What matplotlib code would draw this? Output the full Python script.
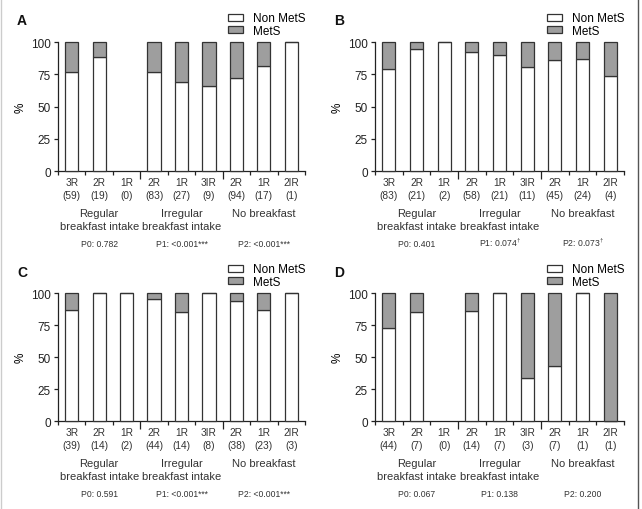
import matplotlib
matplotlib.use("Agg")
import matplotlib.pyplot as plt
from matplotlib.lines import Line2D
from matplotlib.ticker import FixedLocator

plt.rcParams["font.family"] = ["Liberation Sans", "DejaVu Sans"]
plt.rcParams["mathtext.fontset"] = "custom"
plt.rcParams["mathtext.rm"] = "Liberation Sans"

categories = ["3R", "2R", "1R", "2R", "1R", "3IR", "2R", "1R", "2IR"]
groups = ["Regular\nbreakfast intake", "Irregular\nbreakfast intake", "No breakfast"]

a_counts = [59, 19, 0, 83, 27, 9, 94, 17, 1]
a_non_mets = [77.1, 88.1, 0, 76.4, 69.4, 65.7, 72.5, 81.6, 100]
a_mets = [22.9, 11.9, 0, 23.6, 30.6, 34.3, 27.5, 18.4, 0]
a_pvalues = ["P0: 0.782", "P1: <0.001***", "P2: <0.001***"]

b_counts = [83, 21, 2, 58, 21, 11, 45, 24, 4]
b_non_mets = [79.0, 94.5, 100, 92.2, 89.9, 81.0, 86.0, 86.8, 74.0]
b_mets = [21.0, 5.5, 0, 7.8, 10.1, 19.0, 14.0, 13.2, 26.0]
b_pvalues = ["P0: 0.401", "P1: 0.074$^{†}$", "P2: 0.073$^{†}$"]

c_counts = [39, 14, 2, 44, 14, 8, 38, 23, 3]
c_non_mets = [87.0, 100, 100, 95.1, 85.2, 100, 94.0, 86.5, 100]
c_mets = [13.0, 0, 0, 4.9, 14.8, 0, 6.0, 13.5, 0]
c_pvalues = ["P0: 0.591", "P1: <0.001***", "P2: <0.001***"]

d_counts = [44, 7, 0, 14, 7, 3, 7, 1, 1]
d_non_mets = [72.7, 85.2, 0, 85.7, 100, 33.6, 42.7, 100, 0]
d_mets = [27.3, 14.8, 0, 14.3, 0, 66.4, 57.3, 0, 100]
d_pvalues = ["P0: 0.067", "P1: 0.138", "P2: 0.200"]

panels = [
    ("A", a_counts, a_non_mets, a_mets, a_pvalues, [0.0903, 0.6627, 0.3848, 0.2529]),
    ("B", b_counts, b_non_mets, b_mets, b_pvalues, [0.5841, 0.6627, 0.3879, 0.2529]),
    ("C", c_counts, c_non_mets, c_mets, c_pvalues, [0.0903, 0.1725, 0.3848, 0.2510]),
    ("D", d_counts, d_non_mets, d_mets, d_pvalues, [0.5841, 0.1725, 0.3879, 0.2510]),
]

GRAY = "#9e9e9e"
EDGE = "#333333"
PX = 0.72  # points per pixel at 100 dpi

fig = plt.figure(figsize=(6.42, 5.10), dpi=100)

for letter, counts, non_mets, mets, pvalues, rect in panels:
    ax = fig.add_axes(rect)
    xs = [i for i, n in enumerate(counts) if n > 0]
    non = [non_mets[i] for i in xs]
    met = [mets[i] for i in xs]
    ax.bar(xs, non, width=0.48, color="white", edgecolor=EDGE, linewidth=0.9,
           label="Non MetS", clip_on=False, zorder=3)
    ax.bar(xs, met, width=0.48, bottom=non, color=GRAY, edgecolor=EDGE,
           linewidth=0.9, label="MetS", clip_on=False, zorder=3)

    ax.set_xlim(-0.5, 8.5)
    ax.set_ylim(0, 100)
    ax.set_yticks([0, 25, 50, 75, 100])
    ax.tick_params(axis="y", labelsize=8.5, length=3, width=0.9, pad=2,
                   colors="#222222")
    ax.set_ylabel("%", fontsize=8.5, labelpad=3)

    ax.xaxis.set_major_locator(FixedLocator([2.5, 5.5]))
    ax.xaxis.set_minor_locator(FixedLocator([-0.5, 0.5, 1.5, 3.5, 4.5, 6.5, 7.5, 8.5]))
    ax.tick_params(axis="x", which="major", length=6, width=0.9, labelbottom=False,
                   color="#222222")
    ax.tick_params(axis="x", which="minor", length=3, width=0.9, color="#222222")
    for side in ["top", "right"]:
        ax.spines[side].set_visible(False)
    for side in ["left", "bottom"]:
        ax.spines[side].set_linewidth(0.9)
        ax.spines[side].set_color("#222222")

    for i, cat in enumerate(categories):
        ax.annotate(f"{cat}\n({counts[i]})", xy=(i, 0), xycoords=("data", "axes fraction"),
                    xytext=(0, -6 * PX), textcoords="offset points",
                    ha="center", va="top", fontsize=7.3, color="#333333",
                    linespacing=1.4)
    for g, name in enumerate(groups):
        ax.annotate(name, xy=(3 * g + 1, 0), xycoords=("data", "axes fraction"),
                    xytext=(0, -37 * PX), textcoords="offset points",
                    ha="center", va="top", fontsize=8, color="#333333",
                    linespacing=1.35)
        ax.annotate(pvalues[g], xy=(3 * g + 1, 0), xycoords=("data", "axes fraction"),
                    xytext=(0, -75 * PX), textcoords="offset points",
                    ha="center", va="baseline", fontsize=6.2, color="#333333")

    ax.text(-0.166, 1.168, letter, transform=ax.transAxes, fontsize=10,
            fontweight="bold", ha="left", va="center", color="#111111")
    ax.legend(loc="lower right", bbox_to_anchor=(1.0, 1.04), frameon=False,
              borderpad=0, borderaxespad=0, fontsize=8.5, handlelength=1.25,
              handleheight=0.55, labelspacing=0.05, handletextpad=0.8)

fig.add_artist(Line2D([0.002, 0.002], [0, 1], transform=fig.transFigure,
                      color="#cccccc", linewidth=1))
fig.add_artist(Line2D([0.993, 0.993], [0, 1], transform=fig.transFigure,
                      color="#555555", linewidth=1))

fig.savefig("out.png", dpi=100)
